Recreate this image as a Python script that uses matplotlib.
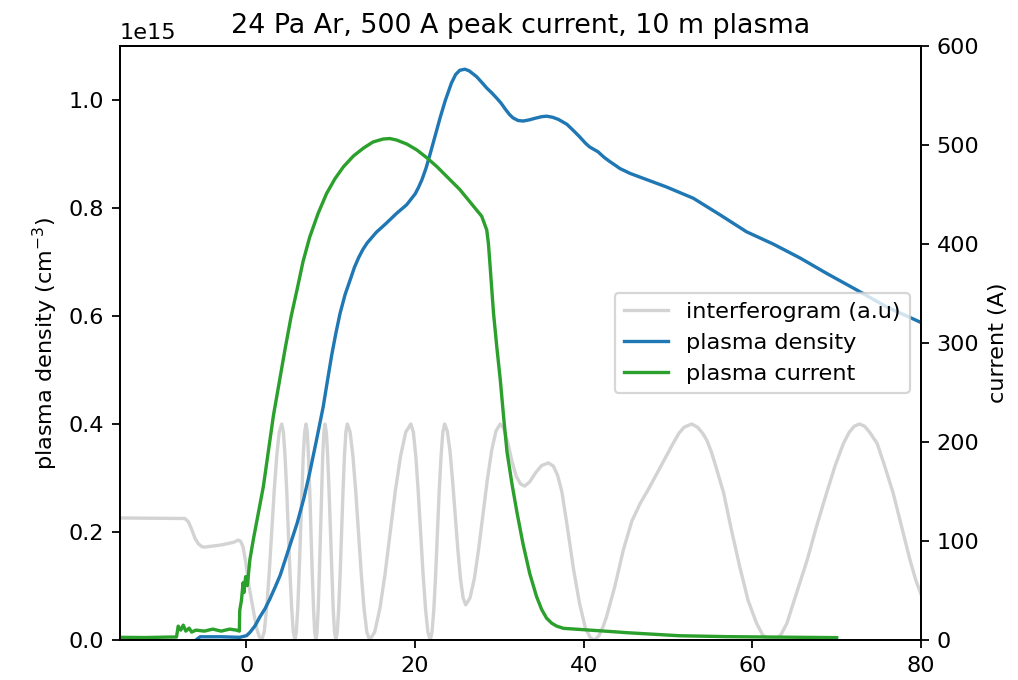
import numpy as np
import matplotlib
matplotlib.use('Agg')
import matplotlib.pyplot as plt

# interferogram (a.u., drawn on the density axis, units of 1e15)
t_ifg = [-15, -7.3, -6.9, -6.5, -6.1, -5.7, -5.3, -5.0, -3.0, -1.5, -1.0, -0.7, -0.4, -0.1,
         0.3, 0.8, 1.2, 1.5, 1.8,
         2.10, 2.39, 2.69, 2.99, 3.29, 3.59, 3.88, 4.18,
         4.38, 4.57, 4.77, 4.97, 5.16, 5.36, 5.55, 5.75,
         5.91, 6.08, 6.24, 6.41, 6.57, 6.73, 6.90, 7.06,
         7.21, 7.35, 7.50, 7.65, 7.80, 7.95, 8.09, 8.24,
         8.37, 8.51, 8.64, 8.78, 8.91, 9.04, 9.18, 9.31,
         9.47, 9.63, 9.79, 9.96, 10.12, 10.28, 10.44, 10.6,
         10.77, 10.94, 11.11, 11.28, 11.45, 11.62, 11.79, 11.96,
         12.29, 12.62, 12.95, 13.28, 13.61, 13.94, 14.27, 14.6,
         15.21, 15.83, 16.44, 17.05, 17.66, 18.28, 18.89, 19.5,
         19.79, 20.08, 20.36, 20.65, 20.94, 21.23, 21.51, 21.8,
         22.01, 22.23, 22.44, 22.65, 22.86, 23.08, 23.29, 23.5,
         23.81, 24.13, 24.44, 24.75, 25.06, 25.38, 25.69, 26.0,
         26.51, 27.03, 27.54, 28.05, 28.56, 29.08, 29.59, 30.1,
         30.5, 31.0, 31.5, 32.0, 32.5, 33.0, 33.6, 34.3, 35.0, 35.8, 36.4, 36.9, 37.4,
         38.0, 38.8, 39.5, 40.2, 40.8, 41.3,
         41.8, 42.3, 42.7, 43.7, 44.7, 45.7, 46.7, 47.7, 48.7, 49.7, 50.6, 51.3, 51.9,
         52.8, 53.5, 54.1, 54.6, 55.1, 55.6, 56.6, 57.5, 58.5, 59.5, 60.5, 61.2, 61.8,
         62.3, 62.8, 63.4, 64.1, 65.3, 66.5, 67.6, 68.8, 69.8, 70.8, 71.5, 72.1,
         72.7, 73.3, 73.9, 74.8, 75.7, 76.7, 77.7, 78.7, 79.4, 80.0]
ifg = [0.226, 0.225, 0.219, 0.205, 0.188, 0.178, 0.173, 0.172, 0.176, 0.181, 0.185, 0.183, 0.172, 0.145,
       0.10, 0.056, 0.022, 0.007, 0.0,
       0.015, 0.059, 0.123, 0.2, 0.277, 0.341, 0.385, 0.4,
       0.385, 0.341, 0.277, 0.2, 0.123, 0.059, 0.015, 0.0,
       0.015, 0.059, 0.123, 0.2, 0.277, 0.341, 0.385, 0.4,
       0.385, 0.341, 0.277, 0.2, 0.123, 0.059, 0.015, 0.0,
       0.015, 0.059, 0.123, 0.2, 0.277, 0.341, 0.385, 0.4,
       0.385, 0.341, 0.277, 0.2, 0.123, 0.059, 0.015, 0.0,
       0.015, 0.059, 0.123, 0.2, 0.277, 0.341, 0.385, 0.4,
       0.385, 0.341, 0.277, 0.2, 0.123, 0.059, 0.015, 0.0,
       0.015, 0.059, 0.123, 0.2, 0.277, 0.341, 0.385, 0.4,
       0.385, 0.341, 0.277, 0.2, 0.123, 0.059, 0.015, 0.0,
       0.015, 0.059, 0.123, 0.2, 0.277, 0.341, 0.385, 0.4,
       0.387, 0.351, 0.296, 0.233, 0.169, 0.114, 0.078, 0.065,
       0.078, 0.114, 0.169, 0.233, 0.296, 0.351, 0.387, 0.4,
       0.392, 0.365, 0.33, 0.303, 0.289, 0.285, 0.293, 0.31, 0.323, 0.328, 0.322, 0.305, 0.275,
       0.215, 0.13, 0.068, 0.022, 0.004, 0.0,
       0.008, 0.025, 0.043, 0.1, 0.167, 0.22, 0.253, 0.28, 0.309, 0.338, 0.364, 0.383, 0.394,
       0.4, 0.394, 0.383, 0.37, 0.35, 0.325, 0.272, 0.205, 0.136, 0.073, 0.031, 0.01, 0.002,
       0.0, 0.002, 0.01, 0.031, 0.09, 0.148, 0.21, 0.272, 0.322, 0.364, 0.385, 0.396,
       0.4, 0.396, 0.385, 0.364, 0.322, 0.272, 0.21, 0.148, 0.11, 0.085]

# plasma density (units of 1e15 cm^-3)
t_dens = [-6.0, -5.5, -3.0, -0.8, 0.0, 0.4, 1.0, 1.6, 2.2, 2.8, 3.4, 4.0, 5.0, 6.0, 6.8,
          7.5, 8.3, 9.1, 9.6, 10.1, 10.6, 11.1, 11.7, 12.3, 12.8, 13.3, 13.8, 14.3, 15.4,
          16.6, 17.8, 19.0, 20.0, 20.4, 20.8, 21.3, 21.8, 22.4, 23.0, 23.6, 24.3, 24.8,
          25.3, 25.9, 26.4, 26.9, 27.3, 28.0, 28.5, 29.1, 29.7, 30.2, 30.7, 31.2, 31.6,
          32.2, 32.8, 33.5, 34.2, 35.0, 35.6, 36.3, 37.0, 38.0, 38.8, 39.5, 40.2, 40.7,
          41.7, 42.4, 43.0, 44.3, 45.5, 46.7, 49.8, 53.0, 56.2, 59.3, 62.5, 65.7, 68.8,
          72.4, 75.9, 80.0]
dens = [0.0, 0.006, 0.006, 0.005, 0.008, 0.014, 0.026, 0.043, 0.058, 0.077, 0.098, 0.12,
        0.168, 0.216, 0.262, 0.31, 0.37, 0.432, 0.48, 0.527, 0.568, 0.605, 0.64, 0.667,
        0.69, 0.708, 0.723, 0.735, 0.755, 0.772, 0.79, 0.806, 0.826, 0.838, 0.852, 0.874,
        0.901, 0.935, 0.969, 1.0, 1.031, 1.047, 1.055, 1.057, 1.054, 1.048, 1.043, 1.031,
        1.022, 1.013, 1.003, 0.994, 0.983, 0.973, 0.967, 0.962, 0.961, 0.963, 0.966,
        0.969, 0.970, 0.968, 0.964, 0.955, 0.943, 0.932, 0.92, 0.913, 0.904, 0.894, 0.887,
        0.873, 0.864, 0.857, 0.839, 0.818, 0.787, 0.756, 0.733, 0.707, 0.679, 0.648,
        0.617, 0.588]

# plasma current (A)
t_cur = [-15, -12, -9, -8.3, -8.1, -7.8, -7.5, -7.2, -6.8, -6.5, -6.0, -5.0, -4.0, -3.0,
         -2.0, -1.2, -0.85, -0.8, -0.6, -0.4, -0.3, -0.1, 0.1, 0.4, 0.8, 2.0, 3.2, 4.6,
         5.3, 6.0, 6.7, 7.5, 8.5, 9.5, 10.5, 11.5, 12.7, 13.9, 15.0, 16.2, 17.0, 17.8,
         19.0, 20.2, 21.4, 22.6, 25.3, 27.9, 28.2, 28.5, 28.7, 28.9, 29.3, 29.7, 30.1,
         30.5, 30.9, 31.5, 32.1, 32.8, 33.6, 34.4, 35.0, 35.6, 36.2, 36.8, 37.6, 43.5,
         45.1, 51.4, 57.0, 70.0]
cur = [2.7, 2.5, 3.0, 3.0, 14, 10, 15, 9, 12, 8, 10, 9, 11, 9, 11, 10, 9, 30, 40, 58,
       48, 64, 55, 81, 101, 155, 227, 295, 327, 354, 382, 407, 431, 451, 466, 478, 489,
       497, 503, 506, 506.5, 505, 501, 495, 487, 478, 455, 428, 421, 414, 400, 377, 330,
       295, 263, 225, 190, 157, 128, 97, 67, 44, 31, 22, 17, 14, 11.8, 8.4, 7.4, 4.3,
       3.4, 2.4]

dpi = 161
fig = plt.figure(figsize=(1018 / dpi, 680 / dpi), dpi=dpi)
ax1 = fig.add_axes([0.1179, 0.0588, 0.7868, 0.8736])
ax2 = ax1.twinx()

l1, = ax1.plot(t_ifg, np.array(ifg) * 1e15, color='lightgray', label='interferogram (a.u)')
l2, = ax1.plot(t_dens, np.array(dens) * 1e15, color='tab:blue', label='plasma density')
l3, = ax2.plot(t_cur, cur, color='tab:green', label='plasma current')

ax1.set_xlim(-15, 80)
ax1.set_ylim(0, 1.1e15)
ax2.set_ylim(0, 600)
ax1.set_ylabel('plasma density (cm$^{-3}$)')
ax2.set_ylabel('current (A)')
ax1.set_title('24 Pa Ar, 500 A peak current, 10 m plasma')
ax2.legend(handles=[l1, l2, l3], loc='center right')

fig.savefig('out.png', dpi=dpi)
